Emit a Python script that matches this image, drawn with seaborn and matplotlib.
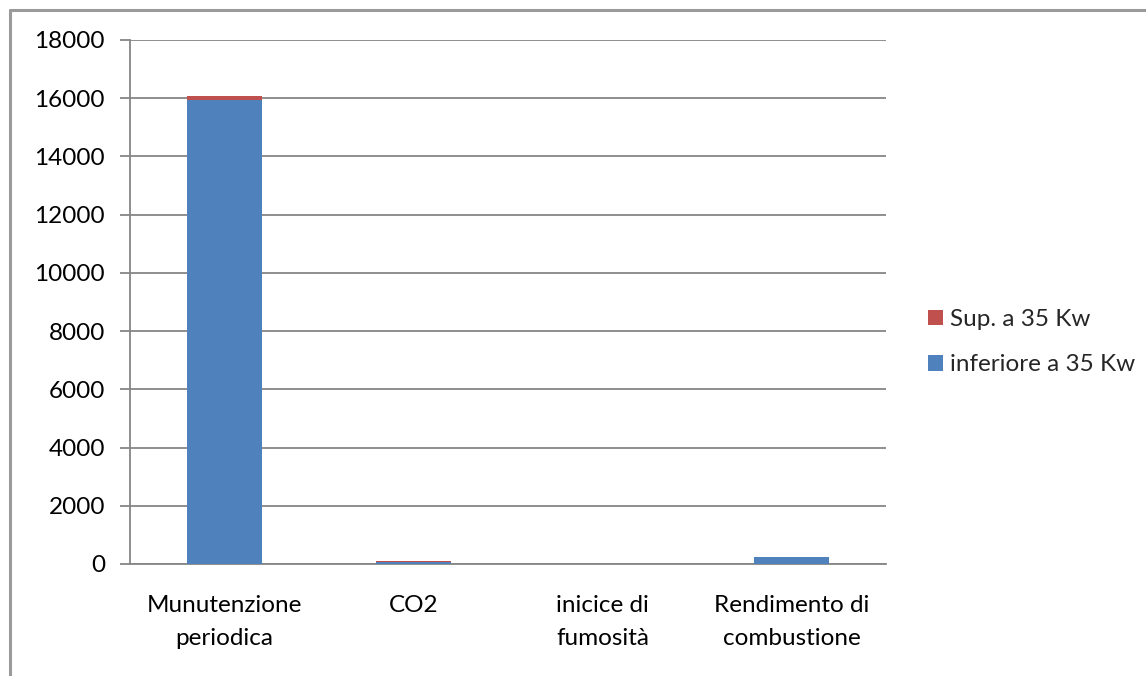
import matplotlib
matplotlib.use("Agg")
import matplotlib.pyplot as plt
import seaborn as sns
import pandas as pd
import numpy as np
from matplotlib.patches import Patch
from matplotlib.lines import Line2D

categories = ["Munutenzione\nperiodica", "CO2", "inicice di\nfumosità", "Rendimento di\ncombustione"]
inferiore = [15940, 60, 0, 240]
superiore = [140, 40, 0, 0]
yticks = [0, 2000, 4000, 6000, 8000, 10000, 12000, 14000, 16000, 18000]

BLUE = "#4F81BD"
RED = "#C0504D"
GRID = "#868686"
FS = 17.5

sns.set_theme(style="white")
plt.rcParams['font.family'] = ['Lato', 'DejaVu Sans']

df = pd.DataFrame({"cat": categories, "inf": inferiore,
                   "tot": [a + b for a, b in zip(inferiore, superiore)]})

fig = plt.figure(figsize=(11.46, 6.76), dpi=100)
ax = fig.add_axes([130/1146, 1-564/676, (886-130)/1146, (564-40)/676])

sns.barplot(data=df, x="cat", y="tot", color=RED, width=0.4, saturation=1,
            linewidth=0, ax=ax, zorder=3)
sns.barplot(data=df, x="cat", y="inf", color=BLUE, width=0.4, saturation=1,
            linewidth=0, ax=ax, zorder=4)

ax.set_ylim(0, 18000)
ax.set_xlim(-0.5, 3.5)
ax.set_yticks(yticks)
ax.set_yticklabels([str(v) for v in yticks])
ax.yaxis.grid(True, color=GRID, linewidth=1.3, zorder=0)
ax.set_axisbelow(True)
ax.set_xlabel("")
ax.set_ylabel("")

ax.set_xticks(range(len(categories)))
ax.set_xticklabels(categories)
for lbl in ax.get_xticklabels():
    lbl.set_linespacing(1.75)
ax.set_xticks(np.arange(-0.5, len(categories), 1), minor=True)
ax.tick_params(axis="x", which="major", length=0, pad=22, labelsize=FS, colors="black")
ax.tick_params(axis="x", which="minor", length=7, width=1.3, color=GRID, direction="out")
ax.tick_params(axis="y", length=7, width=1.3, color=GRID, direction="out", pad=11,
               labelsize=FS, labelcolor="black", left=True)

for s in ["top", "right"]:
    ax.spines[s].set_visible(False)
for s in ["left", "bottom"]:
    ax.spines[s].set_color(GRID)
    ax.spines[s].set_linewidth(1.3)

handles = [Patch(facecolor=RED, edgecolor="none", label="Sup. a 35 Kw"),
           Patch(facecolor=BLUE, edgecolor="none", label="inferiore a 35 Kw")]
fig.legend(handles=handles, loc="upper left", bbox_to_anchor=(928/1146, 1-309/676),
           frameon=False, fontsize=FS, handlelength=0.62, handleheight=0.62,
           handletextpad=0.28, labelspacing=1.0, borderpad=0, borderaxespad=0)

# outer chart frame
fig.add_artist(Line2D([10/1146, 10/1146], [0, 1-10/676], transform=fig.transFigure,
                      color="#9a9a9a", linewidth=2.2))
fig.add_artist(Line2D([10/1146, 1], [1-10/676, 1-10/676], transform=fig.transFigure,
                      color="#9a9a9a", linewidth=2.2))

fig.savefig("out.png", dpi=100)
